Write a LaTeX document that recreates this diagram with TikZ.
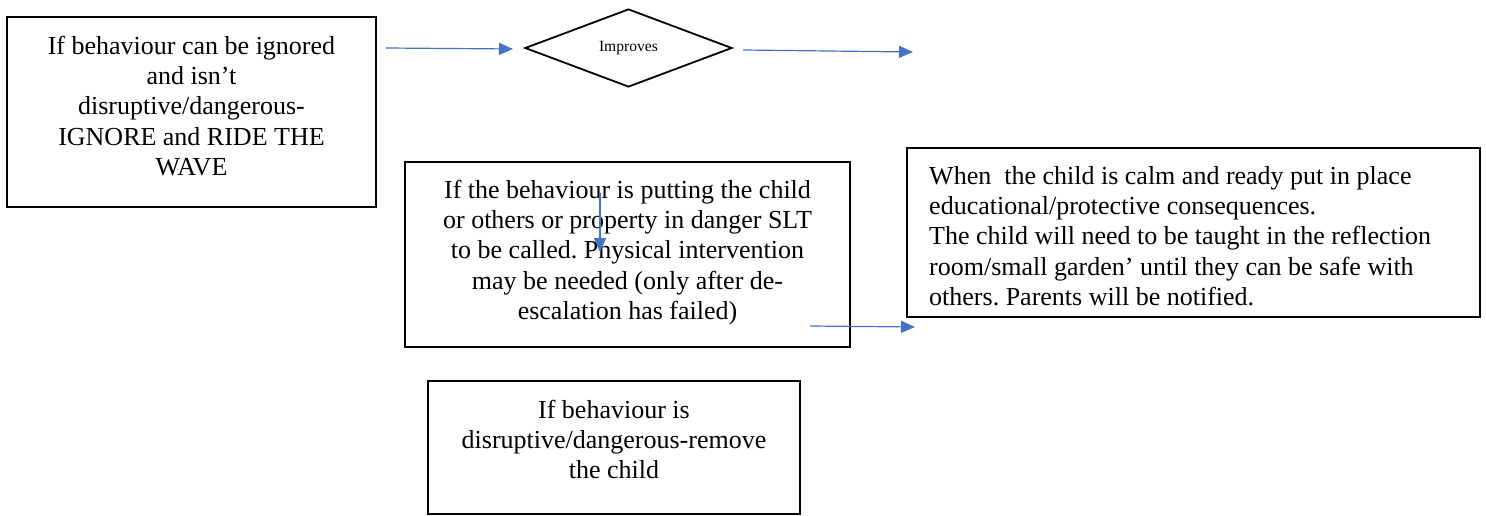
\documentclass[tikz,border=0pt]{standalone}
\usepackage{fontspec}
\setmainfont{Liberation Serif}
\usetikzlibrary{arrows.meta,shapes.geometric}
\definecolor{arrowblue}{RGB}{68,114,196}
\frenchspacing
\begin{document}
\begin{tikzpicture}[x=1pt,y=-1pt,
  box/.style={draw=black,line width=1.8pt,inner sep=0pt},
  txt/.style={inner sep=0pt,font=\fontsize{26}{30.3}\selectfont,align=center,anchor=north},
  conn/.style={draw=arrowblue,line width=1.2pt,-{Triangle[length=14pt,width=12pt]}},
  decision/.style={draw=black,line width=1.8pt,diamond,inner sep=0pt,font=\fontsize{15.6}{18}\selectfont}
]
\useasboundingbox (0,0) rectangle (1486,516);
\fill[white] (0,0) rectangle (1486,516);

% boxes
\node[box,minimum width=369pt,minimum height=190pt] (A) at (191.5,112) {};
\node[box,minimum width=445pt,minimum height=185pt] (B) at (627.5,254.5) {};
\node[box,minimum width=573pt,minimum height=169pt] (C) at (1193.5,232.5) {};
\node[box,minimum width=372pt,minimum height=133pt] (D) at (614,447.5) {};
\node[decision,minimum width=207pt,minimum height=78pt] (I) at (628.5,48) {Improves};

% texts
\node[txt] (At) at (191.5,34) {\rule{0pt}{20pt}If behaviour can be ignored\\and isn’t\\disruptive/dangerous-\\IGNORE and RIDE THE\\WAVE};
\node[txt] (Bt) at (627.5,178) {\rule{0pt}{20pt}If the behaviour is putting the child\\or others or property in danger SLT\\to be called. Physical intervention\\may be needed (only after de-\\escalation has failed)};
\node[txt,align=left,anchor=north west] (Ct) at (929,164) {\rule{0pt}{20pt}When\ \ the child is calm and ready put in place\\educational/protective consequences.\\The child will need to be taught in the reflection\\room/small garden’ until they can be safe with\\others. Parents will be notified.};
\node[txt] (Dt) at (614,398) {\rule{0pt}{20pt}If behaviour is\\disruptive/dangerous-remove\\the child};

% connectors
\coordinate (a1s) at (386,48);
\coordinate (a1e) at (513,49);
\coordinate (a2s) at (743,50);
\coordinate (a2e) at (913,52);
\coordinate (a3s) at (600,193);
\coordinate (a3e) at (600,252);
\coordinate (a4s) at (810,326);
\coordinate (a4e) at (915,327);
\draw[conn] (a1s) -- (a1e);
\draw[conn] (a2s) -- (a2e);
\draw[conn] (a3s) -- (a3e);
\draw[conn] (a4s) -- (a4e);
\end{tikzpicture}
\end{document}
